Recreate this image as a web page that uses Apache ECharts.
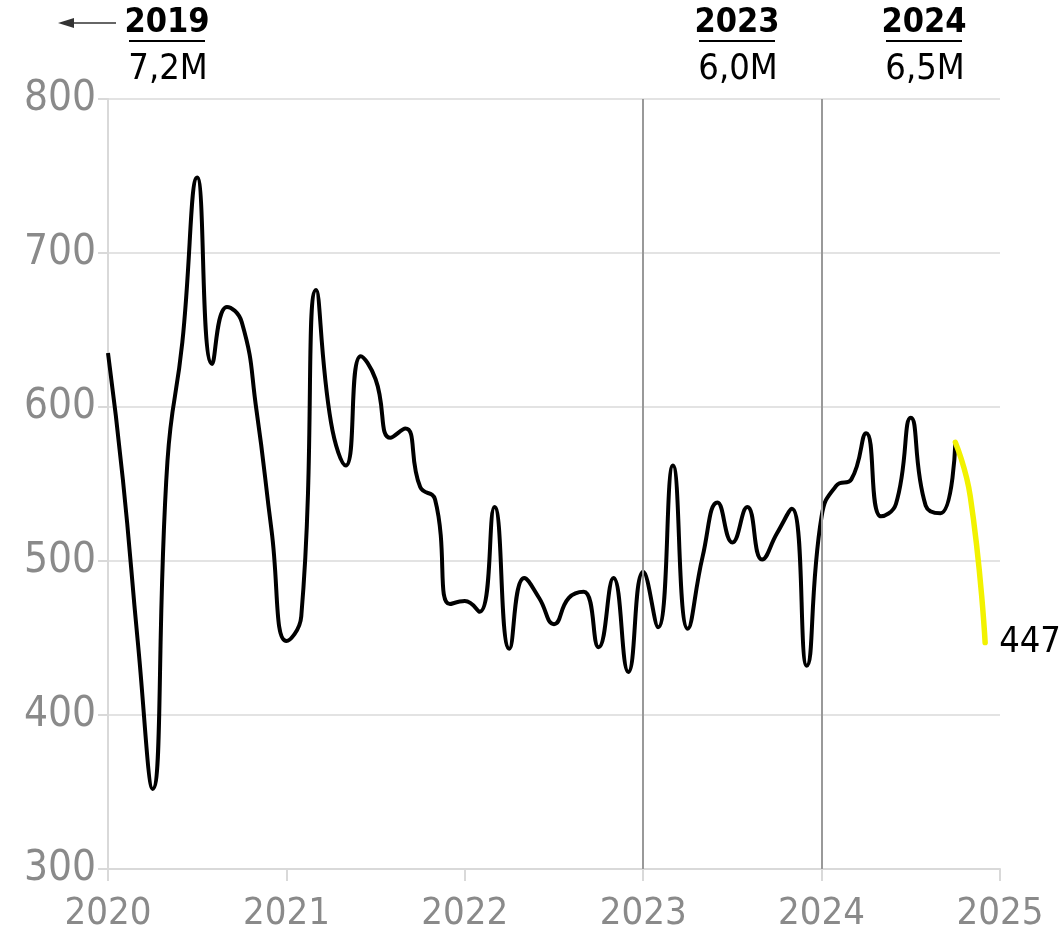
<!DOCTYPE html>
<html>
<head>
<meta charset="utf-8">
<script src="https://cdn.jsdelivr.net/npm/echarts@6/dist/echarts.min.js"></script>
<style>
  html, body { margin: 0; padding: 0; background: #ffffff; }
  #chart { width: 1061px; height: 933px; }
</style>
</head>
<body>
<div id="chart"></div>
<script>
// monthly values, Jan 2020 .. Oct 2024 (black line)
var v2020 = [635, 553, 448, 352, 565, 642, 749, 628, 665, 655, 597, 520];
var v2021 = [448, 464, 676, 590, 562, 633, 618, 580, 586, 548, 540, 472];
var v2022 = [474, 467, 535, 443, 489, 476, 459, 476, 480, 444, 489, 428];
var v2023 = [493, 457, 562, 456, 503, 538, 512, 535, 501, 518, 534, 432];
var v2024 = [529, 549, 553, 583, 529, 537, 593, 536, 531, 577];
// latest months Oct..Dec 2024 (yellow)
var recent = [577, 542, 447];
var recentStart = 57;

var years = ['2020', '2021', '2022', '2023', '2024', '2025'];
var yTicks = [300, 400, 500, 600, 700, 800];
var markYears = [36, 48];   // month index of 2023 and 2024

var headers = [
  { year: '2019', total: '7,2M', x: 167 },
  { year: '2023', total: '6,0M', x: 737 },
  { year: '2024', total: '6,5M', x: 924 }
];

var fontFam = '"Liberation Sans Narrow", "DejaVu Sans Condensed", sans-serif';

var mainData = [].concat(v2020, v2021, v2022, v2023, v2024).map(function (v, i) { return [i, v]; });
var recentData = recent.map(function (v, i) { return [recentStart + i, v]; });

var myChart = echarts.init(document.getElementById('chart'));

var graphics = [];
headers.forEach(function (h) {
  graphics.push({
    type: 'text', x: h.x, y: 23,
    style: { text: h.year, font: 'bold 34px ' + fontFam, fill: '#000', align: 'center', verticalAlign: 'middle' }
  });
  graphics.push({
    type: 'line', shape: { x1: h.x - 38, y1: 41, x2: h.x + 38, y2: 41 },
    style: { stroke: '#000', lineWidth: 2 }
  });
  graphics.push({
    type: 'text', x: h.x + 1, y: 70,
    style: { text: h.total, font: '36px ' + fontFam, fill: '#000', align: 'center', verticalAlign: 'middle' }
  });
});
// arrow pointing left before 2019
graphics.push({ type: 'line', shape: { x1: 72, y1: 23, x2: 116, y2: 23 }, style: { stroke: '#333', lineWidth: 1.5 } });
graphics.push({ type: 'polygon', shape: { points: [[58, 23], [74, 18], [74, 28]] }, style: { fill: '#333' } });

var option = {
  backgroundColor: '#ffffff',
  animation: false,
  grid: { left: 108, right: 61, top: 99, bottom: 63, containLabel: false },
  xAxis: {
    type: 'value', min: 0, max: 60, interval: 12,
    axisLine: { show: true, lineStyle: { color: '#d9d9d9', width: 2 } },
    axisTick: { show: true, length: 12, lineStyle: { color: '#d9d9d9', width: 2 } },
    axisLabel: {
      color: '#8a8a8a', fontSize: 38, fontFamily: fontFam, margin: 26,
      formatter: function (v) { return years[v / 12]; }
    },
    splitLine: { show: false }
  },
  yAxis: {
    type: 'value', min: yTicks[0], max: yTicks[yTicks.length - 1], interval: 100,
    axisLine: { show: true, lineStyle: { color: '#d9d9d9', width: 2 } },
    axisTick: { show: true, length: 10, lineStyle: { color: '#d9d9d9', width: 2 } },
    axisLabel: { color: '#8a8a8a', fontSize: 42, fontFamily: fontFam, margin: 12 },
    splitLine: { show: true, lineStyle: { color: '#e3e3e3', width: 2 } }
  },
  graphic: graphics,
  series: [
    {
      type: 'line', data: mainData, smooth: 0.5, showSymbol: false, silent: true,
      lineStyle: { color: '#000000', width: 4 },
      markLine: {
        silent: true, symbol: 'none', label: { show: false },
        lineStyle: { color: '#999999', width: 2, type: 'solid' },
        data: markYears.map(function (m) { return { xAxis: m }; })
      },
      z: 3
    },
    {
      type: 'line', data: recentData, smooth: 0.5, showSymbol: false, silent: true,
      lineStyle: { color: '#f2f200', width: 5.5, cap: 'round' },
      endLabel: {
        show: true, color: '#000', fontSize: 36, fontFamily: fontFam, distance: 14,
        formatter: function (p) { return p.value[1]; }
      },
      z: 4
    }
  ]
};
myChart.setOption(option);
</script>
</body>
</html>
